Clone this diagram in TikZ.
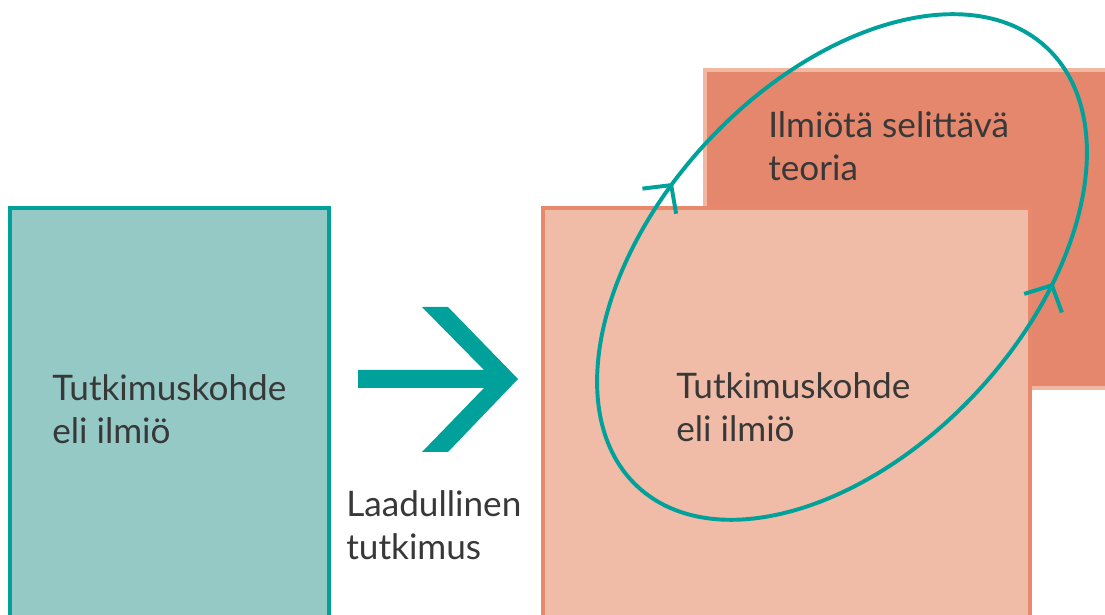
\documentclass[tikz,border=0pt]{standalone}
\usepackage{fontspec}
\setmainfont{Lato}
\usetikzlibrary{arrows.meta,decorations.markings,positioning}
\definecolor{tealline}{HTML}{00A19A}
\definecolor{tealfill}{HTML}{94C9C6}
\definecolor{salmonline}{HTML}{E8896D}
\definecolor{salmonfill}{HTML}{F0BCA8}
\definecolor{theoryfill}{HTML}{E5876D}
\definecolor{theoryline}{HTML}{F2B7A1}
\definecolor{textgray}{HTML}{383838}
\tikzset{
    box_text/.style={
        anchor=north west,
        align=left,
        inner sep=0pt,
        text=textgray,
        font=\fontsize{25}{30.5}\selectfont
    },
    object_block/.style={
        draw=tealline,
        fill=tealfill,
        line width=3.5pt
    },
    study_block/.style={
        draw=salmonline,
        fill=salmonfill,
        line width=3.5pt
    },
    theory_block/.style={
        draw=theoryline,
        fill=theoryfill,
        line width=2.8pt
    },
    cycle_line/.style={
        draw=tealline,
        line width=2.8pt
    },
}

\begin{document}
\begin{tikzpicture}[x=0.025cm, y=-0.025cm]
    \useasboundingbox (0,0) rectangle (1105,615);
    \clip (0,0) rectangle (1105,615);
    % blocks
    \path[object_block] (10,208) rectangle (329,650);
    \path[theory_block] (705,70) rectangle (1130,388);
    \path[study_block] (543,208) rectangle (1030,650);
    % texts
    \node[box_text] (object) at (52,374) {Tutkimuskohde\\eli ilmiö};
    \node[box_text] (method) at (346,490) {Laadullinen\\tutkimus};
    \node[box_text] (object2) at (676,372) {Tutkimuskohde\\eli ilmiö};
    \node[box_text] (theory) at (768,111) {Ilmiötä selittävä\\teoria};
    % big arrow
    \fill[tealline] (358,370) -- (484,370) -- (422,307) -- (448,307) -- (518,379)
        -- (448,452) -- (422,452) -- (484,388) -- (358,388) -- cycle;
    % cycle
    \draw[cycle_line, rotate around={47:(842,267)},
        postaction={decorate, decoration={markings,
            mark=at position 0.163 with {\arrowreversed[line width=2.8pt]{Straight Barb[length=0.5cm, width=1.05cm]}},
            mark=at position 0.715 with {\arrow[line width=2.8pt]{Straight Barb[length=0.5cm, width=1.05cm]}}}}]
        (842,267) ellipse [x radius=300, y radius=184];
\end{tikzpicture}
\end{document}
